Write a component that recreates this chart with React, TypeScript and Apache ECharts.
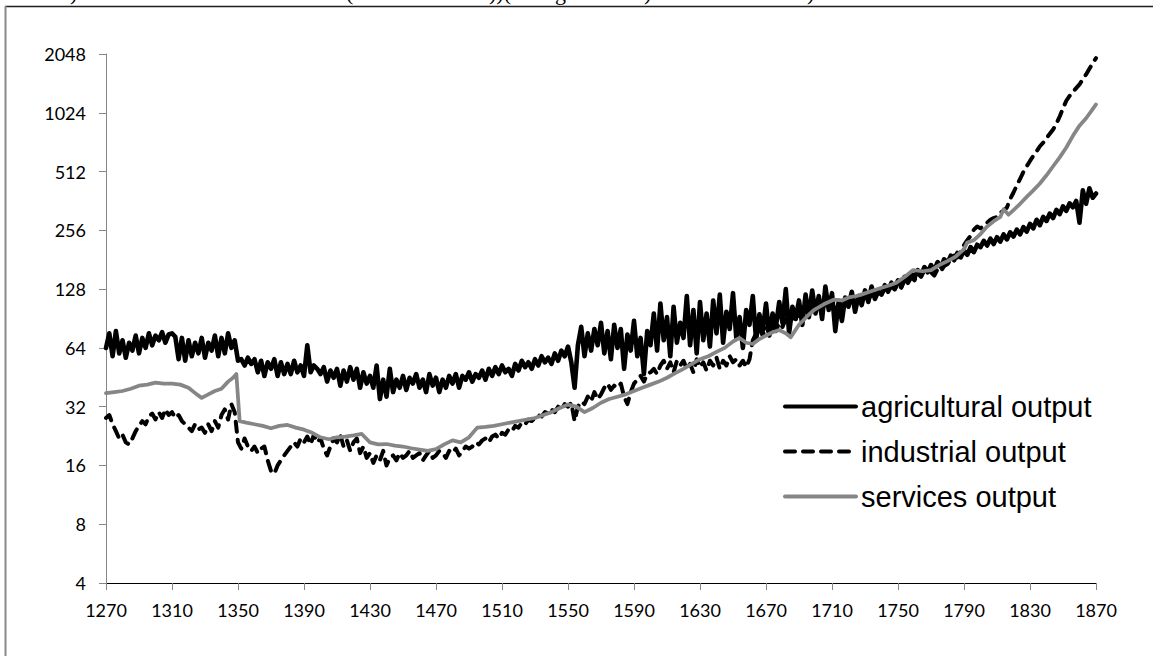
import React, { useEffect, useRef } from "react";
import * as echarts from "echarts";

// x positions (years) shared by the agricultural and industrial series, every 2 years
const YEARS_2 = Array.from({ length: 301 }, (_, i) => 1270 + 2 * i);

const AGRICULTURAL = [
  64, 76, 58, 78, 60, 70, 57, 68, 62, 74, 60, 72, 64, 76, 66,
  74, 70, 77, 68, 75, 76, 73, 56, 72, 55, 70, 58, 68, 60, 72,
  57, 68, 62, 74, 58, 72, 60, 76, 64, 70, 55, 56, 52, 57, 53,
  56, 48, 55, 46, 54, 50, 56, 46, 54, 47, 53, 47, 55, 48, 52,
  46, 66, 48, 52, 50, 47, 51, 43, 49, 45, 50, 41, 49, 43, 51,
  44, 50, 40, 48, 42, 46, 40, 52, 35, 44, 36, 50, 38, 44, 40,
  46, 39, 45, 42, 47, 40, 44, 38, 47, 41, 45, 38, 44, 40, 46,
  42, 47, 40, 46, 44, 48, 43, 47, 45, 49, 44, 50, 46, 51, 47,
  52, 48, 50, 46, 53, 49, 55, 51, 54, 50, 56, 52, 58, 54, 57,
  53, 60, 55, 62, 58, 65, 54, 40, 66, 82, 58, 76, 62, 80, 66,
  86, 60, 78, 56, 84, 64, 80, 50, 75, 62, 88, 58, 72, 47, 78,
  66, 96, 62, 108, 70, 92, 58, 104, 68, 86, 72, 118, 66, 100, 60,
  110, 70, 96, 65, 112, 76, 120, 68, 98, 80, 122, 72, 92, 64, 100,
  84, 118, 70, 95, 78, 108, 74, 96, 82, 110, 86, 128, 76, 104, 90,
  112, 84, 120, 92, 126, 96, 118, 90, 132, 100, 122, 78, 110, 88, 116,
  104, 124, 98, 118, 106, 126, 110, 132, 114, 124, 120, 134, 124, 138, 128,
  142, 132, 148, 138, 154, 146, 160, 150, 166, 156, 170, 160, 176, 166, 182,
  174, 190, 180, 196, 186, 202, 192, 210, 198, 216, 210, 226, 214, 232, 218,
  236, 224, 244, 230, 250, 238, 258, 244, 266, 252, 276, 262, 290, 272, 300,
  286, 312, 296, 326, 310, 340, 322, 352, 336, 362, 280, 410, 350, 420, 376,
  395,
];

const INDUSTRIAL = [
  28, 29, 26, 24, 22, 23, 21, 20.5, 22, 24, 25.5, 27, 26, 28.5, 29.5,
  27.5, 30, 28, 31, 29, 30, 28, 29, 27, 26, 25, 24, 26, 24.5, 25,
  23.5, 26, 24, 27, 25, 29, 31, 27.5, 33, 30, 21, 19.5, 22, 20, 19,
  20, 18.5, 19.5, 20, 17, 15, 14.5, 16, 17, 18, 19, 20, 21, 20, 22,
  21, 22.5, 20.5, 23, 21, 22, 19.5, 18, 20, 22, 21, 23, 20, 21.5, 19,
  21, 22, 18.5, 20, 17.5, 18.5, 16.5, 18, 17, 19, 16, 17.5, 18, 17, 18.5,
  17.5, 18, 19, 17.5, 18, 18.5, 17, 18, 19, 17.5, 18, 19, 18.5, 17.5, 19,
  18.5, 19.5, 18, 19, 20, 19.5, 20, 21, 20.5, 21.5, 22, 21, 22.5, 23, 22,
  23.5, 23, 24.5, 24, 25.5, 25, 26.5, 26, 27.5, 27, 28, 29, 28.5, 30, 29.5,
  31, 30, 32, 31, 33, 32, 33.5, 27, 32, 34, 33, 36, 34, 38, 35,
  37, 40, 42, 39, 41, 40, 42, 36, 33, 38, 42, 44, 46, 43, 47,
  48, 50, 47, 52, 55, 50, 54, 48, 55, 52, 55, 50, 53, 48, 56,
  51, 54, 49, 55, 52, 57, 50, 55, 52, 58, 54, 56, 52, 55, 51,
  56, 70, 76, 80, 74, 82, 76, 84, 78, 86, 82, 90, 85, 94, 88,
  96, 90, 100, 94, 104, 98, 106, 100, 110, 104, 108, 100, 112, 104, 110,
  106, 114, 108, 116, 112, 118, 112, 122, 116, 124, 120, 128, 124, 132, 128,
  136, 130, 142, 136, 148, 142, 154, 148, 160, 156, 156, 150, 162, 158, 168,
  172, 182, 190, 186, 200, 215, 228, 240, 258, 268, 262, 272, 280, 290, 296,
  300, 316, 322, 335, 370, 400, 435, 470, 510, 545, 580, 615, 650, 690, 720,
  760, 800, 840, 900, 980, 1080, 1180, 1250, 1310, 1370, 1430, 1520, 1610, 1720, 1840,
  1950,
];

const SERVICES_YEARS = [
  1270, 1275, 1280, 1285, 1290, 1295, 1300, 1305, 1310, 1315, 1320, 1325, 1328, 1332, 1336,
  1340, 1344, 1347, 1349, 1351, 1355, 1360, 1365, 1370, 1375, 1380, 1385, 1390, 1395, 1400,
  1405, 1410, 1415, 1420, 1425, 1430, 1435, 1440, 1445, 1450, 1455, 1460, 1465, 1470, 1475,
  1480, 1485, 1490, 1495, 1500, 1505, 1510, 1515, 1520, 1525, 1530, 1535, 1540, 1545, 1550,
  1555, 1560, 1565, 1570, 1575, 1580, 1585, 1590, 1595, 1600, 1605, 1610, 1615, 1620, 1625,
  1630, 1635, 1640, 1645, 1650, 1654, 1658, 1662, 1666, 1670, 1674, 1678, 1682, 1685, 1690,
  1695, 1699, 1705, 1711, 1716, 1720, 1725, 1729, 1735, 1740, 1745, 1749, 1755, 1759, 1765,
  1770, 1775, 1780, 1785, 1790, 1792, 1796, 1800, 1804, 1808, 1812, 1814, 1817, 1820, 1824,
  1828, 1832, 1836, 1840, 1844, 1848, 1852, 1856, 1860, 1864, 1868, 1870,
];
const SERVICES = [
  37.5, 38, 38.5, 39.5, 41, 41.5, 42.5, 42, 42, 41.5, 40, 37, 35.5, 37, 38.5,
  39.5, 43, 45, 47, 27, 26.5, 26, 25.5, 24.8, 25.5, 25.8, 25, 24.4, 23.5, 22.3,
  21.8, 22.3, 22.5, 22.8, 23.2, 21, 20.5, 20.6, 20.2, 20, 19.6, 19.3, 19, 19.4, 20.5,
  21.5, 21, 22.3, 25, 25.2, 25.5, 26, 26.5, 27, 27.5, 28, 29, 30, 31.5, 32.8,
  32, 30, 31.5, 33.5, 35, 36, 37, 38.5, 40, 41.5, 43, 45, 47.5, 50, 53,
  56, 58, 61, 64, 69, 72, 68, 67, 71, 74, 77, 79, 76, 72.5, 84,
  93, 100, 107, 113, 112, 116, 118, 121, 126, 130, 134, 138, 150, 160, 158,
  160, 170, 178, 188, 205, 222, 228, 245, 268, 285, 300, 328, 308, 325, 350,
  380, 410, 445, 490, 545, 605, 680, 780, 880, 960, 1070, 1130,
];

const X_TICKS = [1270, 1310, 1350, 1390, 1430, 1470, 1510, 1550, 1590, 1630, 1670, 1710, 1750, 1790, 1830, 1870];
const SERIES_NAMES = ["agricultural output", "industrial output", "services output"];

// cut-off caption glyphs visible at the very top of the picture
const CAPTION_BITS = [
  { t: ")", x: 70 },
  { t: "(", x: 346 },
  { t: "))(", x: 489 },
  { t: "g", x: 555 },
  { t: ")", x: 644 },
  { t: ")", x: 807 },
];

export default function App() {
  const ref = useRef<HTMLDivElement>(null);

  useEffect(() => {
    if (!ref.current) return;
    const chart = echarts.init(ref.current, undefined, { renderer: "svg" });
    const zip = (xs: number[], ys: number[]) => ys.map((v, i) => [xs[i], v]);
    const axisFont = "Lato, 'Noto Sans', sans-serif";

    chart.setOption({
      animation: false,
      backgroundColor: "#ffffff",
      grid: { left: 106, top: 54, width: 990, height: 529, containLabel: false },
      xAxis: {
        type: "value",
        min: 1270,
        max: 1870,
        splitLine: { show: false },
        axisLine: { show: true, lineStyle: { color: "#000000", width: 1 } },
        axisTick: { show: true, customValues: X_TICKS, length: 7, lineStyle: { color: "#868686", width: 1 } },
        axisLabel: {
          customValues: X_TICKS,
          color: "#000000",
          fontSize: 18,
          fontFamily: axisFont,
          margin: 18,
          formatter: (v: number) => String(Math.round(v)),
        },
      },
      yAxis: {
        type: "log",
        logBase: 2,
        min: 4,
        max: 2048,
        splitLine: { show: false },
        axisLine: { show: true, lineStyle: { color: "#868686", width: 1 } },
        axisTick: { show: true, length: 7, lineStyle: { color: "#868686", width: 1 } },
        axisLabel: {
          color: "#000000",
          fontSize: 18,
          fontFamily: axisFont,
          margin: 20,
          formatter: (v: number) => String(Math.round(v)),
        },
      },
      legend: {
        orient: "vertical",
        left: 778,
        top: 387,
        itemWidth: 71,
        itemHeight: 14,
        itemGap: 16,
        data: SERIES_NAMES,
        itemStyle: { opacity: 0, borderWidth: 0 },
        lineStyle: { width: 4 },
        textStyle: {
          color: "#000000",
          fontSize: 29,
          lineHeight: 29,
          fontFamily: "'Liberation Sans', Arial, sans-serif",
        },
      },
      series: [
        {
          name: SERIES_NAMES[0],
          type: "line",
          data: zip(YEARS_2, AGRICULTURAL),
          symbol: "none",
          lineStyle: { color: "#000000", width: 4.6, join: "round", cap: "round" },
          itemStyle: { color: "#000000" },
        },
        {
          name: SERIES_NAMES[1],
          type: "line",
          data: zip(YEARS_2, INDUSTRIAL),
          symbol: "none",
          lineStyle: { color: "#000000", width: 4, type: [10, 8], join: "round", cap: "round" },
          itemStyle: { color: "#000000" },
        },
        {
          name: SERIES_NAMES[2],
          type: "line",
          data: zip(SERVICES_YEARS, SERVICES),
          symbol: "none",
          lineStyle: { color: "#868686", width: 3.75, join: "round", cap: "round" },
          itemStyle: { color: "#868686" },
        },
      ],
      graphic: [
        {
          type: "line",
          silent: true,
          shape: { x1: 5, y1: 6.5, x2: 1153, y2: 6.5 },
          style: { stroke: "#1e1e1e", lineWidth: 1.5 },
        },
        {
          type: "line",
          silent: true,
          shape: { x1: 5.5, y1: 6, x2: 5.5, y2: 656 },
          style: { stroke: "#8a8a8a", lineWidth: 2 },
        },
        ...CAPTION_BITS.map((b) => ({
          type: "text",
          silent: true,
          x: b.x,
          y: -8,
          style: {
            text: b.t,
            fill: "#000000",
            fontSize: 22,
            fontFamily: "'Liberation Serif', 'Times New Roman', serif",
            verticalAlign: "middle",
            align: "left",
          },
        })),
      ],
    });

    return () => chart.dispose();
  }, []);

  return (
    <div
      ref={ref}
      style={{ position: "fixed", left: 0, top: 0, width: 1153, height: 656, background: "#fff" }}
    />
  );
}
